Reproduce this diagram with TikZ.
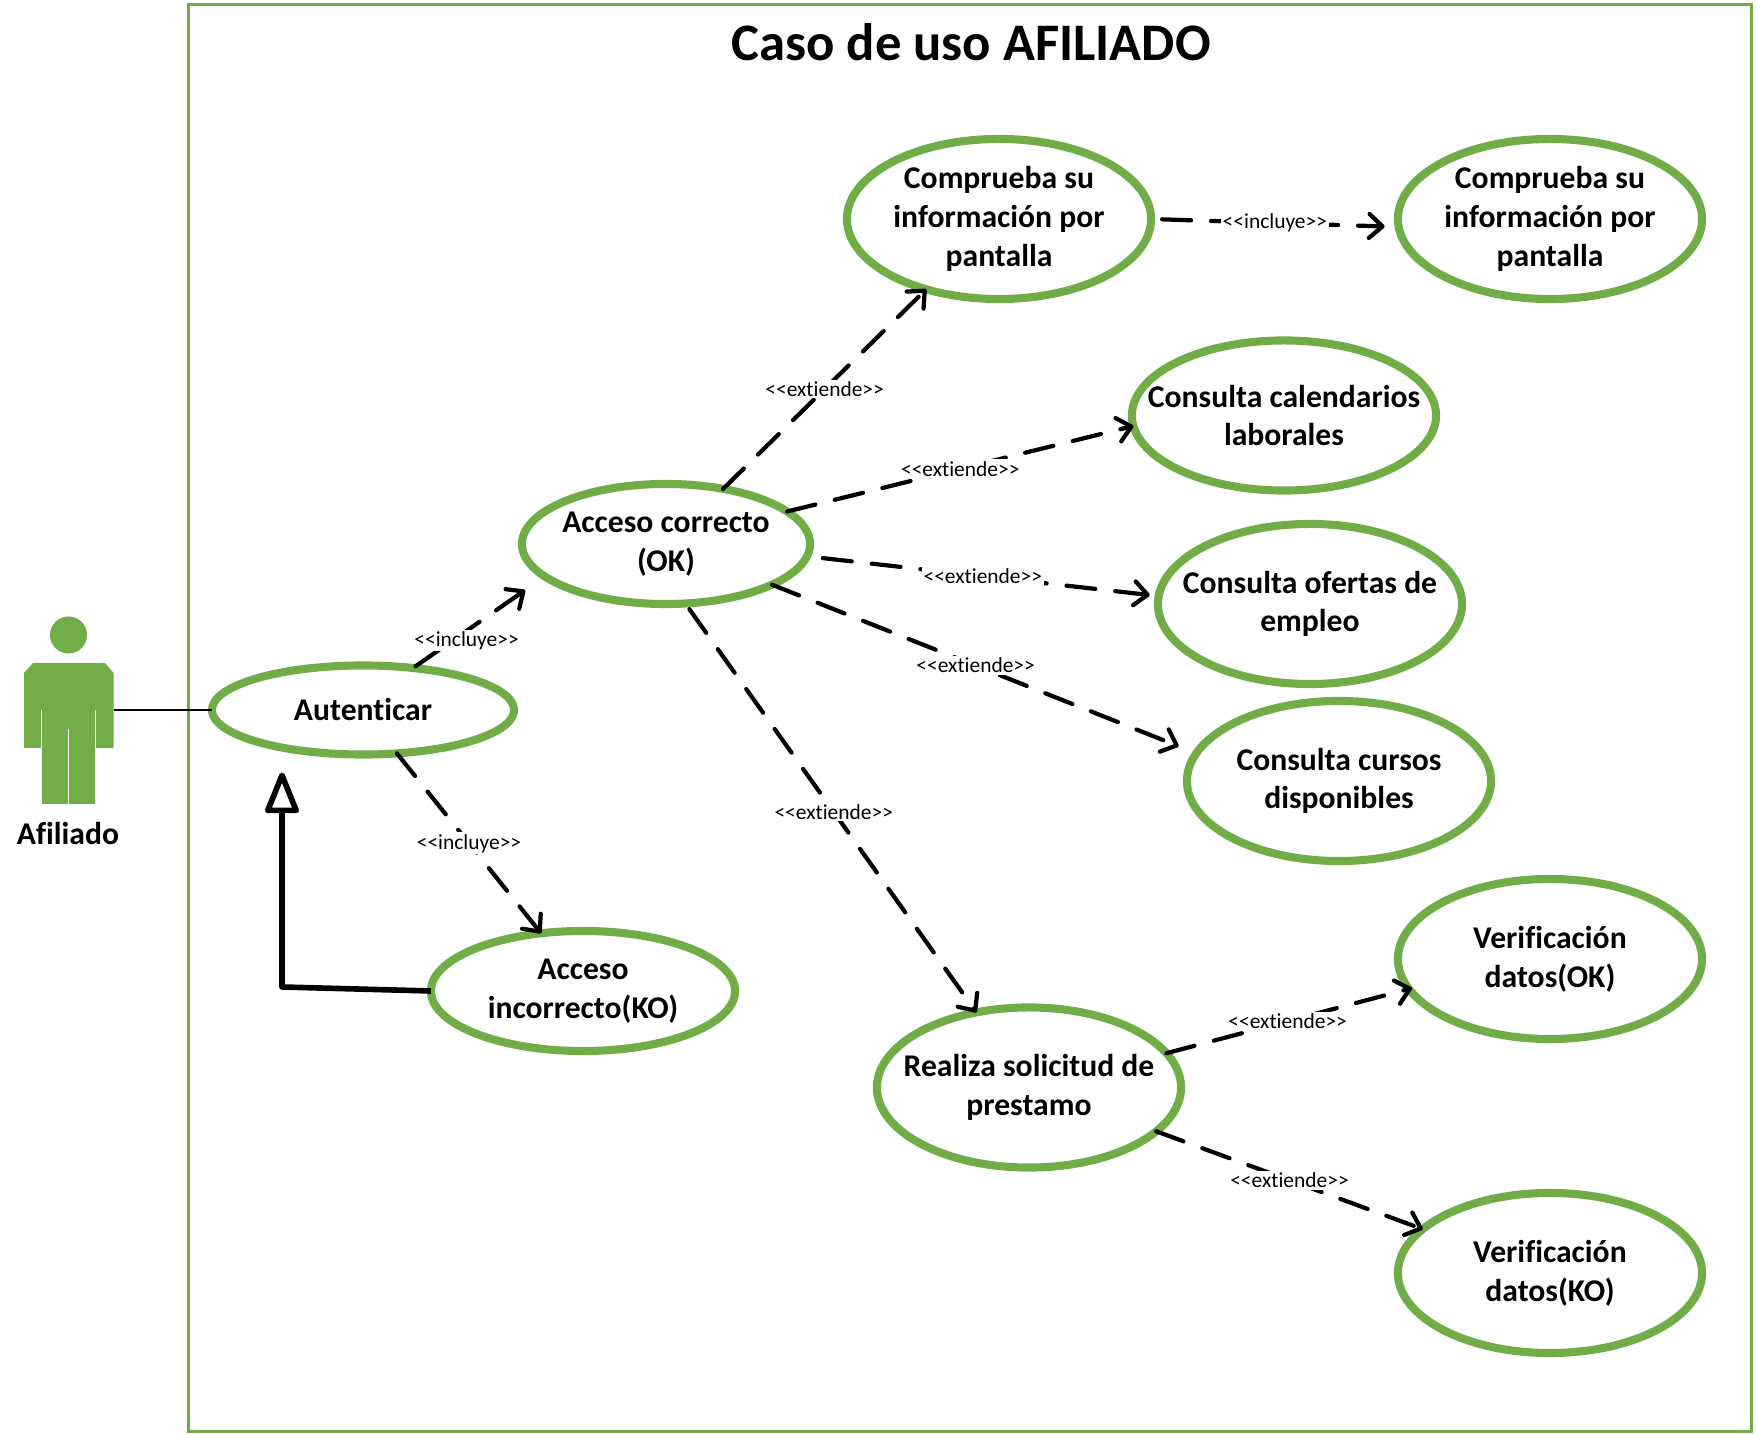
\documentclass[tikz,border=0pt]{standalone}
\usepackage{fontspec}
\newfontfamily\casefont{Carlito}[RawFeature={-liga;-clig;-calt}]
\usetikzlibrary{shapes.geometric,arrows.meta}
\definecolor{casegreen}{HTML}{70AD47}
\tikzset{
  usecase/.style={ellipse,draw=casegreen,line width=2.3pt,outer sep=0pt,fill=white,inner sep=-1.6cm,
    minimum width=3.04cm,minimum height=1.6cm,align=center,
    font=\casefont\fontsize{9}{11}\selectfont\bfseries},
  rellabel/.style={fill=white,inner sep=0.5pt,font=\casefont\fontsize{6.1}{7}\selectfont},
  relation/.style={black,line width=1.2pt,line cap=round,dash pattern=on 0.29cm off 0.2cm,
    -{Straight Barb[length=3.8pt,width=6.8pt,round]}},
  generalizes/.style={black,line width=1.6pt,line join=round,
    -{Triangle[open,length=13pt,width=10pt,round,fill=white]}}
}
\begin{document}
\begin{tikzpicture}[x=0.01cm,y=-0.01cm]
  \useasboundingbox (0,0) rectangle (1756,1434);
  \node[draw=casegreen,line width=0.85pt,minimum width=15.63cm,minimum height=14.27cm] (marco) at (970,718) {};
  \node[font=\casefont\fontsize{15}{18}\selectfont\bfseries] (titulo) at (971,42) {Caso de uso AFILIADO};
  % actor
  \fill[casegreen] (68.5,635) circle (18.5);
  \fill[casegreen] (33,663) -- (105,663) -- (113.6,673) -- (113.6,748) -- (95,748) -- (95,804)
    -- (42,804) -- (42,748) -- (24,748) -- (24,673) -- cycle;
  \draw[white,line width=0.3pt] (41.5,710) -- (41.5,748) (95.5,710) -- (95.5,748) (68.5,729) -- (68.5,804);
  \coordinate (cuerpo) at (113.6,710);
  \node[font=\casefont\fontsize{9}{11}\selectfont\bfseries] (afiliado) at (68,834) {Afiliado};
  % casos de uso
  \node[usecase,minimum height=0.89cm,minimum width=3.02cm] (autenticar) at (363,710) {Autenticar};
  \node[usecase,minimum height=1.2cm,minimum width=2.88cm] (accesoOk) at (666,544) {Acceso correcto\\(OK)};
  \node[usecase,minimum height=1.2cm] (accesoKo) at (583,991) {Acceso\\incorrecto(KO)};
  \node[usecase] (comprueba) at (999,219) {Comprueba su\\información por\\pantalla};
  \node[usecase] (compruebaDos) at (1550,219) {Comprueba su\\información por\\pantalla};
  \node[usecase,minimum height=1.5cm] (calendarios) at (1284,415.5) {Consulta calendarios\\laborales};
  \node[usecase] (ofertas) at (1310,604) {Consulta ofertas de\\empleo};
  \node[usecase] (cursos) at (1339,781) {Consulta cursos\\disponibles};
  \node[usecase] (solicitud) at (1029,1087.5) {Realiza solicitud de\\prestamo};
  \node[usecase] (verifOk) at (1550,959) {Verificación\\datos(OK)};
  \node[usecase] (verifKo) at (1550,1273) {Verificación\\datos(KO)};
  % relaciones
  \draw[black,line width=0.45pt] (cuerpo) -- (autenticar.west);
  \begin{scope}[relation]
    \draw[shorten <=0.03cm,shorten >=0.24cm] (autenticar.40) to node[rellabel,pos=.3,xshift=0.14cm] {<<incluye>>} (accesoOk.195);
    \draw (autenticar.308) to node[rellabel] {<<incluye>>} (accesoKo.126);
    \draw (accesoOk.44) to node[rellabel] {<<extiende>>} (comprueba.224);
    \draw (accesoOk.15) to node[rellabel] {<<extiende>>} (calendarios.184);
    \draw[shorten <=0.16cm,shorten >=0.09cm] (accesoOk.355) to node[rellabel] {<<extiende>>} (ofertas.177);
    \draw[shorten >=0.19cm] (accesoOk.339) to node[rellabel,pos=.48] {<<extiende>>} (cursos.169);
    \draw[shorten <=0.07cm] (accesoOk.288) to node[rellabel,pos=.51] {<<extiende>>} (solicitud.125);
    \draw[shorten <=0.11cm,shorten >=0.14cm] (comprueba.0) to node[rellabel] {<<incluye>>} (compruebaDos.183);
    \draw[shorten >=-0.03cm] (solicitud.14) to node[rellabel] {<<extiende>>} (verifOk.192);
    \draw (solicitud.341) to node[rellabel] {<<extiende>>} (verifKo.161);
  \end{scope}
  \coordinate (esquina) at (282,987);
  \draw[generalizes,shorten >=0.18cm] (accesoKo.west) -- (esquina) -- (esquina |- autenticar.south);
\end{tikzpicture}
\end{document}
